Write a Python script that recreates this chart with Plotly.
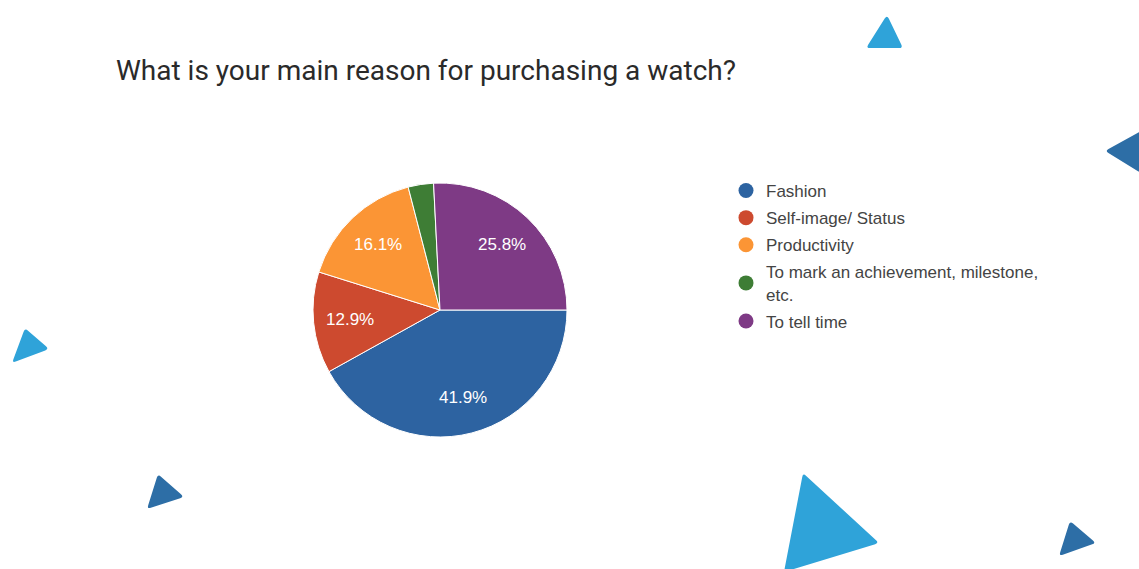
import math
import plotly.graph_objects as go

W, H = 1139, 569

categories = ["Fashion", "Self-image/ Status", "Productivity",
              "To mark an achievement, milestone, etc.", "To tell time"]
legend_labels = ["Fashion", "Self-image/ Status", "Productivity",
                 "To mark an achievement, milestone,<br>etc.", "To tell time"]
responses = [13, 4, 5, 1, 8]
colors = ["#2d63a1", "#cd4a2f", "#fb9535", "#3e7d35", "#7e3a85"]
show_label = [True, True, True, False, True]

# decorative triangles (pixel coords) and colours
triangles = [
    ([(887, 15), (866, 48), (903, 48)], "#2fa3d9"),
    ([(1141, 131), (1105, 151), (1141, 173)], "#2d6ea6"),
    ([(25, 328), (12, 363), (49, 349)], "#2fa3d9"),
    ([(158, 474), (147, 509), (184, 497)], "#2d6ea6"),
    ([(803, 473), (784, 572), (879, 543)], "#2fa3d9"),
    ([(1070, 521), (1059, 556), (1096, 543)], "#2d6ea6"),
]
corner_radius = 4

# pie geometry (pixels)
pie_left, pie_right, pie_top, pie_bottom = 313, 567, 183, 437
start_angle = 90          # degrees clockwise from 12 o'clock
label_radius_frac = 0.71


def px(x):
    return x / W


def py(y):
    return 1 - y / H


def rounded_path(pts, r):
    n = len(pts)
    segs = []
    for i in range(n):
        p0 = pts[i - 1]
        p1 = pts[i]
        p2 = pts[(i + 1) % n]
        d1 = math.hypot(p0[0] - p1[0], p0[1] - p1[1])
        d2 = math.hypot(p2[0] - p1[0], p2[1] - p1[1])
        a = (p1[0] + (p0[0] - p1[0]) * r / d1, p1[1] + (p0[1] - p1[1]) * r / d1)
        b = (p1[0] + (p2[0] - p1[0]) * r / d2, p1[1] + (p2[1] - p1[1]) * r / d2)
        segs.append((a, p1, b))
    s = f"M {px(segs[0][0][0]):.5f},{py(segs[0][0][1]):.5f} "
    for k, (a, c, b) in enumerate(segs):
        if k > 0:
            s += f"L {px(a[0]):.5f},{py(a[1]):.5f} "
        s += f"Q {px(c[0]):.5f},{py(c[1]):.5f} {px(b[0]):.5f},{py(b[1]):.5f} "
    return s + "Z"


fig = go.Figure()

fig.add_trace(go.Pie(
    labels=categories,
    values=responses,
    sort=False,
    direction="clockwise",
    rotation=start_angle,
    marker=dict(colors=colors, line=dict(color="white", width=1)),
    textinfo="none",
    domain=dict(x=[px(pie_left), px(pie_right)], y=[py(pie_bottom), py(pie_top)]),
    showlegend=False,
    hoverinfo="label+percent",
))

# percentage labels placed at slice mid-angles derived from the data
total = sum(responses)
cx = (pie_left + pie_right) / 2
cy = (pie_top + pie_bottom) / 2
rad = (pie_right - pie_left) / 2
annotations = [dict(
    text="What is your main reason for purchasing a watch?",
    x=px(114), y=py(70), xref="paper", yref="paper",
    xanchor="left", yanchor="middle", showarrow=False,
    font=dict(family="Roboto", size=28, color="#2a2a2a"),
)]
cum = 0
for v, show in zip(responses, show_label):
    mid = start_angle + (cum + v / 2) / total * 360
    cum += v
    if not show:
        continue
    a = math.radians(mid)
    lx = cx + math.sin(a) * rad * label_radius_frac
    ly = cy - math.cos(a) * rad * label_radius_frac
    annotations.append(dict(
        text=f"{v / total * 100:.1f}%", x=px(lx), y=py(ly),
        xref="paper", yref="paper", showarrow=False,
        xanchor="center", yanchor="middle",
        font=dict(family="Liberation Sans, Arial", size=17, color="white"),
    ))

for i, (lab, col) in enumerate(zip(legend_labels, colors)):
    fig.add_trace(go.Scatter(
        x=[None], y=[None], mode="markers", name=lab,
        legendgroup=f"g{i}",
        marker=dict(symbol="circle", size=15, color=col),
        showlegend=True,
    ))

shapes = []
for pts, col in triangles:
    shapes.append(dict(type="path", xref="paper", yref="paper",
                       path=rounded_path(pts, corner_radius),
                       fillcolor=col, line=dict(width=0),
                       layer="above"))

fig.update_layout(
    width=W, height=H,
    margin=dict(l=0, r=0, t=0, b=0),
    paper_bgcolor="white",
    plot_bgcolor="white",
    xaxis=dict(visible=False),
    yaxis=dict(visible=False),
    shapes=shapes,
    annotations=annotations,
    legend=dict(
        x=px(726), y=py(173), xanchor="left", yanchor="top",
        font=dict(family="Liberation Sans, Arial", size=17, color="#444444"),
        itemwidth=30, traceorder="grouped", tracegroupgap=2,
        bgcolor="rgba(0,0,0,0)",
    ),
)

fig.write_html("out.html", config={"displayModeBar": False},
               post_script="document.body.style.margin='0';")
